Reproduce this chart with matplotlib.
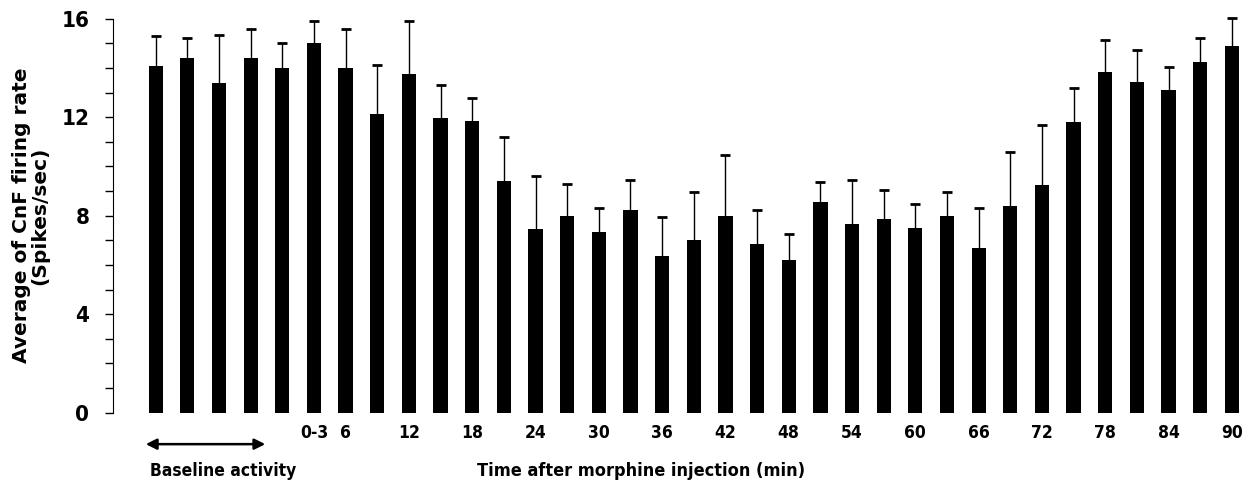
import numpy as np
import matplotlib
matplotlib.use("Agg")
import matplotlib.pyplot as plt
from matplotlib.ticker import MultipleLocator

# --- Data ---
baseline_mean = [14.1, 14.4, 13.4, 14.4, 14.0]
baseline_err = [1.2, 0.8, 1.95, 1.2, 1.0]

post_times = [3, 6, 9, 12, 15, 18, 21, 24, 27, 30, 33, 36, 39, 42, 45,
              48, 51, 54, 57, 60, 63, 66, 69, 72, 75, 78, 81, 84, 87, 90]
post_mean = [15.0, 14.0, 12.15, 13.75, 11.95, 11.85, 9.4, 7.45, 8.0, 7.35,
             8.25, 6.35, 7.0, 8.0, 6.85, 6.2, 8.55, 7.65, 7.85, 7.5,
             8.0, 6.7, 8.4, 9.25, 11.8, 13.85, 13.45, 13.1, 14.25, 14.9]
post_err = [0.92, 1.6, 1.98, 2.16, 1.35, 0.95, 1.8, 2.18, 1.3, 0.98,
            1.2, 1.6, 1.95, 2.45, 1.4, 1.05, 0.8, 1.8, 1.2, 0.97,
            0.96, 1.62, 2.2, 2.43, 1.37, 1.27, 1.28, 0.94, 0.97, 1.12]

tick_times = [3, 6, 12, 18, 24, 30, 36, 42, 48, 54, 60, 66, 72, 78, 84, 90]
tick_labels = ["0-3", "6", "12", "18", "24", "30", "36", "42", "48", "54",
               "60", "66", "72", "78", "84", "90"]

# condensed face for the numbers / captions (looks like Arial Narrow in the original)
NARROW = dict(family="DejaVu Sans", stretch="condensed", weight="bold")

# --- Positions: baseline bars first, then one slot per 3 min ---
means = baseline_mean + post_mean
errs = baseline_err + post_err
x = np.arange(len(means))
n_base = len(baseline_mean)
tick_pos = [n_base + post_times.index(t) for t in tick_times]

fig = plt.figure(figsize=(12.48, 4.93), dpi=100)
ax = fig.add_axes([0.0905, 0.163, 0.908, 0.799])

ax.bar(x, means, width=0.45, color="black", zorder=2)
_, caps, bars = ax.errorbar(x, means, yerr=[np.zeros(len(errs)), errs], fmt="none",
                            ecolor="black", elinewidth=1, capsize=3.5, capthick=2,
                            zorder=1)
caps[0].remove()  # only the upper cap is drawn in the original
caps[1].set_clip_on(False)
for b in bars:
    b.set_clip_on(False)

ax.set_xlim(-1.35, 34.45)
ax.set_ylim(0, 16)
ax.yaxis.set_major_locator(MultipleLocator(4))
ax.yaxis.set_minor_locator(MultipleLocator(1))
ax.tick_params(axis="y", which="both", direction="out", length=6, width=1, pad=11)
ax.tick_params(axis="x", length=0, pad=8)
for s in ["top", "right", "bottom"]:
    ax.spines[s].set_visible(False)

ax.set_xticks(tick_pos)
ax.set_xticklabels(tick_labels, fontsize=12.5, **NARROW)
for lab in ax.get_yticklabels():
    lab.set(fontsize=16, **NARROW)

ax.set_ylabel("Average of CnF firing rate\n(Spikes/sec)", fontsize=14.5,
              family="DejaVu Sans", fontweight="bold", labelpad=9,
              linespacing=0.95)

# baseline arrow and bottom captions
ax.annotate("", xy=(-0.4, -0.08), xytext=(3.55, -0.08),
            xycoords=("data", "axes fraction"), textcoords=("data", "axes fraction"),
            arrowprops=dict(arrowstyle="<|-|>", color="black", lw=1.8,
                            mutation_scale=16), annotation_clip=False)
fig.text(0.12, 0.045, "Baseline activity", fontsize=12.5, ha="left",
         va="center", **NARROW)
fig.text(0.514, 0.045, "Time after morphine injection (min)", fontsize=13,
         ha="center", va="center", **NARROW)

fig.savefig("out.png", dpi=100)
